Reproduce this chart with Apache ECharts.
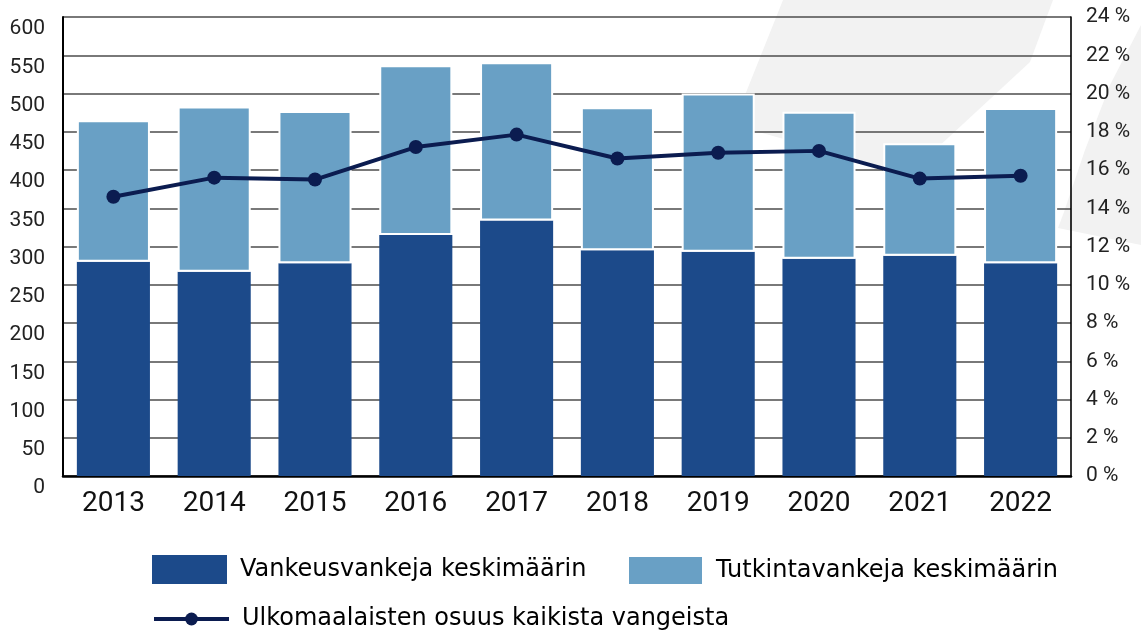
<!DOCTYPE html>
<html>
<head>
<meta charset="utf-8">
<script src="https://cdn.jsdelivr.net/npm/echarts@6/dist/echarts.min.js"></script>
<style>
html,body{margin:0;padding:0;background:#fff;}
#main{width:1141px;height:630px;}
</style>
</head>
<body>
<div id="main"></div>
<script>
const years = ['2013','2014','2015','2016','2017','2018','2019','2020','2021','2022'];
const vankeusvankeja = [280, 267, 278, 315, 334, 295, 293, 284, 288, 278];
const tutkintavankeja = [185, 216, 199, 222, 207, 187, 207, 192, 147, 203];
const ulkomaalaistenOsuus = [14.6, 15.6, 15.5, 17.2, 17.85, 16.6, 16.9, 17.0, 15.55, 15.7];
const seriesNames = ['Vankeusvankeja keskimäärin', 'Tutkintavankeja keskimäärin', 'Ulkomaalaisten osuus kaikista vangeista'];

const chart = echarts.init(document.getElementById('main'), null, {renderer:'canvas'});
const legendText = {fontFamily:'DejaVu Sans', fontSize:24, color:'#000', padding:[0,0,0,8]};
const option = {
  animation:false,
  backgroundColor:'#fff',
  graphic:[
    {type:'polygon', z:-10, silent:true, shape:{points:[[783,0],[1053,0],[1030,62],[909,174],[755,131],[740,118],[745,95]]}, style:{fill:'#f2f2f2'}},
    {type:'polygon', z:-10, silent:true, shape:{points:[[1141,25],[1110,85],[1085,150],[1064,212],[1058,228],[1141,245]]}, style:{fill:'#f2f2f2'}}
  ],
  grid:{left:63, right:70, top:17, bottom:154},
  legend:[
    {left:152, top:555, padding:0, itemWidth:75, itemHeight:29, icon:'rect', data:[seriesNames[0]], textStyle:legendText},
    {left:627, top:555, padding:0, itemWidth:75, itemHeight:29, icon:'rect', data:[seriesNames[1]], textStyle:legendText},
    {left:152, top:607, padding:0, itemWidth:75, itemHeight:16, data:[seriesNames[2]], textStyle:legendText,
     lineStyle:{width:4, color:'#0b1c50'}, itemStyle:{color:'#0b1c50'}}
  ],
  xAxis:{
    type:'category', data:years,
    axisLine:{lineStyle:{color:'#000', width:2.5}},
    axisTick:{show:false},
    axisLabel:{fontFamily:'Roboto', fontSize:28, color:'#111', margin:14}
  },
  yAxis:[
    {type:'value', min:0, max:600, interval:50,
     axisLine:{show:true, lineStyle:{color:'#000', width:2}},
     axisTick:{show:false},
     splitLine:{show:true, lineStyle:{color:'#4d4d4d', width:1.6}},
     axisLabel:{fontFamily:'Roboto', fontSize:21, color:'#222', margin:18, verticalAlign:'top', lineHeight:24}
    },
    {type:'value', min:0, max:24, interval:2, position:'right',
     axisLine:{show:true, lineStyle:{color:'#000', width:1.6}},
     axisTick:{show:false},
     splitLine:{show:false},
     axisLabel:{fontFamily:'Roboto', fontSize:21, color:'#222', margin:15, formatter:function(v){return v+' %';}}
    }
  ],
  series:[
    {name:seriesNames[0], type:'bar', stack:'v', data:vankeusvankeja, barCategoryGap:'27.5%',
     itemStyle:{color:'#1c4a8a'}},
    {name:seriesNames[1], type:'bar', stack:'v', data:tutkintavankeja,
     itemStyle:{color:'#69a0c5', borderColor:'#fff', borderWidth:2}},
    {name:seriesNames[2], type:'line', yAxisIndex:1, data:ulkomaalaistenOsuus, z:5,
     symbol:'circle', symbolSize:14,
     lineStyle:{color:'#0b1c50', width:4},
     itemStyle:{color:'#0b1c50'}}
  ]
};
chart.setOption(option);
</script>
</body>
</html>
